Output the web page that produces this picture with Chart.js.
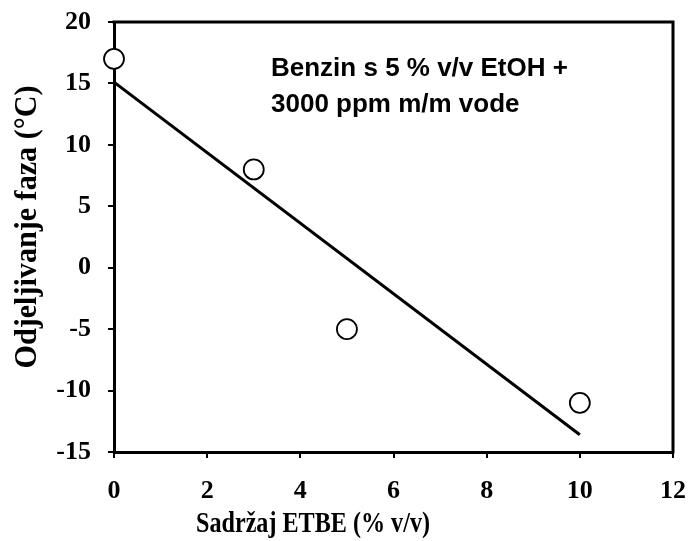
<!DOCTYPE html>
<html>
<head>
<meta charset="utf-8">
<script src="https://cdn.jsdelivr.net/npm/chart.js@4/dist/chart.umd.min.js"></script>
<style>
  html, body { margin: 0; padding: 0; background: #fff; }
  #wrap { width: 688px; height: 541px; }
</style>
</head>
<body>
<div id="wrap"><canvas id="myChart" width="688" height="541"></canvas></div>
<script>
// measured points (ETBE % v/v vs phase separation temp)
const etbeContent = [0, 3, 5, 10];
const phaseSepTemp = [17, 8, -5, -11];

// fitted line end points
const fitX = [0, 10];
const fitY = [15.1, -13.6];

const xTicks = [0, 2, 4, 6, 8, 10, 12];
const yTicks = [-15, -10, -5, 0, 5, 10, 15, 20];

const xTitle = 'Sadržaj ETBE (% v/v)';
const yTitle = 'Odjeljivanje faza (°C)';
const noteLines = ['Benzin s 5 % v/v EtOH +', '3000 ppm m/m vode'];

const serif = '"Liberation Serif", "Times New Roman", serif';
const sans = '"Liberation Sans", Arial, sans-serif';

// text squeezed to a given length (the titles in the original are not evenly scaled)
function fitText(ctx, text, len) {
    const w = ctx.measureText(text).width;
    ctx.save();
    ctx.scale(len / w, 1);
    ctx.fillText(text, 0, 0);
    ctx.restore();
}

// draws frame + texts that chart.js can't place where the original has them
const extras = {
    id: 'extras',
    afterDraw(chart) {
        const ctx = chart.ctx;
        const a = chart.chartArea;
        ctx.save();
        ctx.strokeStyle = '#000';
        ctx.lineWidth = 3;
        ctx.beginPath();
        ctx.moveTo(a.left - 1.5, a.top);
        ctx.lineTo(a.right, a.top);
        ctx.lineTo(a.right, a.bottom + 1.5);
        ctx.stroke();

        ctx.fillStyle = '#000';
        ctx.font = 'bold 26px ' + sans;
        ctx.textAlign = 'left';
        ctx.textBaseline = 'alphabetic';
        ctx.fillText(noteLines[0], 271, 76);
        ctx.fillText(noteLines[1], 271, 112);

        ctx.font = 'bold 30px ' + serif;
        ctx.textAlign = 'center';
        ctx.save();
        ctx.translate(313, 532);
        fitText(ctx, xTitle, 234);
        ctx.restore();

        ctx.font = 'bold 31px ' + serif;
        ctx.save();
        ctx.translate(36, 227);
        ctx.rotate(-Math.PI / 2);
        fitText(ctx, yTitle, 283);
        ctx.restore();
        ctx.restore();
    }
};

const ctx = document.getElementById('myChart').getContext('2d');

new Chart(ctx, {
    type: 'scatter',
    data: {
        datasets: [
            {
                label: 'fit',
                type: 'line',
                data: fitX.map((x, i) => ({x: x, y: fitY[i]})),
                borderColor: '#000',
                borderWidth: 3,
                pointRadius: 0,
                fill: false,
                tension: 0
            },
            {
                label: 'measured',
                data: etbeContent.map((x, i) => ({x: x, y: phaseSepTemp[i]})),
                pointRadius: 10,
                pointBorderWidth: 1.8,
                pointBorderColor: '#000',
                pointBackgroundColor: '#fff',
                clip: false
            }
        ]
    },
    options: {
        responsive: false,
        animation: false,
        layout: { padding: { top: 22, right: 15, left: 0, bottom: 0 } },
        plugins: {
            legend: { display: false },
            tooltip: { enabled: false }
        },
        scales: {
            x: {
                type: 'linear',
                min: 0,
                max: 12,
                afterBuildTicks: s => { s.ticks = xTicks.map(v => ({value: v})); },
                afterFit: s => { s.height = 541 - 452; s.paddingLeft = 0; s.paddingRight = 0; },
                border: { display: true, color: '#000', width: 3 },
                grid: { drawOnChartArea: false, drawTicks: true, tickLength: 6, color: '#000', lineWidth: 2 },
                ticks: { color: '#000', padding: 18, maxRotation: 0, font: { family: serif, size: 26, weight: 'bold' } }
            },
            y: {
                type: 'linear',
                min: -15,
                max: 20,
                afterBuildTicks: s => { s.ticks = yTicks.map(v => ({value: v})); },
                afterFit: s => { s.width = 114; s.paddingTop = 0; s.paddingBottom = 0; },
                border: { display: true, color: '#000', width: 3 },
                grid: { drawOnChartArea: false, drawTicks: true, tickLength: 6, color: '#000', lineWidth: 2 },
                ticks: { color: '#000', padding: 17, font: { family: serif, size: 26, weight: 'bold' } }
            }
        }
    },
    plugins: [extras]
});
</script>
</body>
</html>
